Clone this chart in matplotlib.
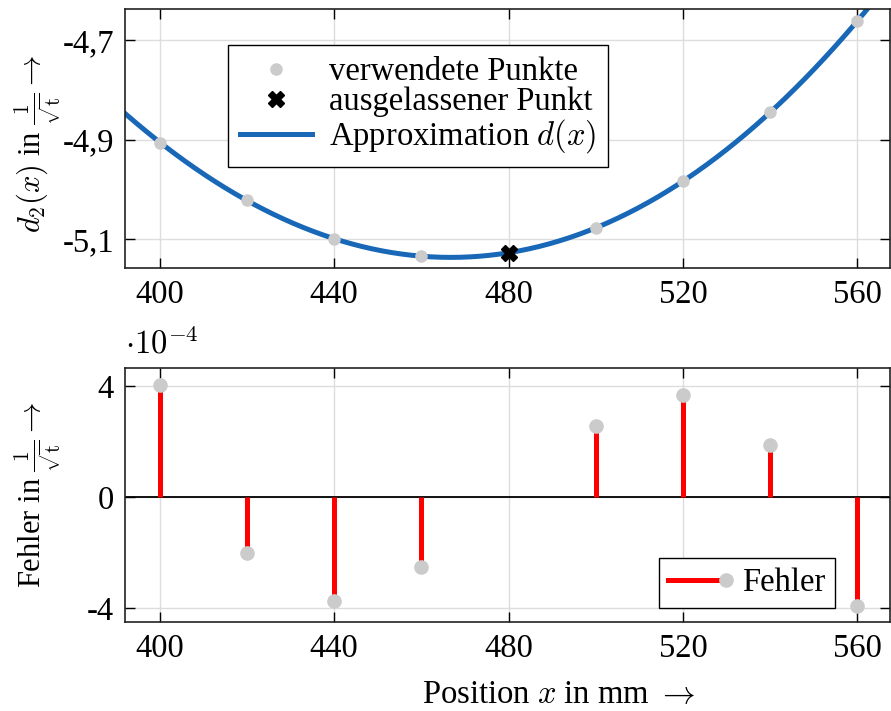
import numpy as np
import matplotlib
matplotlib.use("Agg")
import matplotlib.pyplot as plt
from matplotlib.lines import Line2D
from matplotlib.legend_handler import HandlerBase

plt.rcParams['font.family'] = ['Liberation Serif', 'DejaVu Serif']
plt.rcParams['mathtext.fontset'] = 'cm'

# ---- data ----
x_used = [400, 420, 440, 460, 500, 520, 540, 560]
d_used = [-4.906, -5.021, -5.100, -5.134, -5.078, -4.983, -4.845, -4.662]
x_omit = [480]
d_omit = [-5.128]
err_x = [400, 420, 440, 460, 500, 520, 540, 560]
err_vals = [4.03e-4, -2.02e-4, -3.75e-4, -2.52e-4, 2.56e-4, 3.68e-4, 1.87e-4, -3.93e-4]
xticks = [400, 440, 480, 520, 560]
top_yticks = [-5.1, -4.9, -4.7]
top_yticklabels = ['-5,1', '-4,9', '-4,7']
bot_yticks = [-4e-4, 0, 4e-4]
bot_yticklabels = ['-4', '0', '4']

blue = '#1868b7'
gray = '#cbcbcb'
red = '#ff0000'
fs = 23.5
fsl = 22

fig = plt.figure(figsize=(8.91, 7.11), dpi=100)
ax1 = fig.add_axes([0.1403, 0.623, 0.8586, 0.3643])
ax2 = fig.add_axes([0.1403, 0.1252, 0.8586, 0.3572])

# approximation curve: cubic fit of the used points
coef = np.polyfit(x_used, d_used, 3)
xc = np.linspace(390, 570, 400)
ax1.plot(xc, np.polyval(coef, xc), color=blue, lw=3.6, label=r'Approximation $d(x)$', zorder=2)
ax1.plot(x_used, d_used, 'o', color=gray, ms=8, ls='none', label='verwendete Punkte', zorder=3)
ax1.plot(x_omit, d_omit, 'X', color='black', ms=12, ls='none', label='ausgelassener Punkt', zorder=4)

ax1.set_xlim(392, 567.5)
ax1.set_ylim(-5.158, -4.6377)
ax1.set_xticks(xticks)
ax1.set_yticks(top_yticks)
ax1.set_yticklabels(top_yticklabels)
ax1.set_ylabel(r'$d_2(x)$ in $\frac{1}{\sqrt{\mathrm{t}}}\rightarrow$', fontsize=fsl)
ax1.yaxis.set_label_coords(-0.08, 0.48)

h, l = ax1.get_legend_handles_labels()
order = [1, 2, 0]
leg1 = ax1.legend([h[i] for i in order], [l[i] for i in order], loc='upper left',
                  bbox_to_anchor=(0.135, 0.861), borderaxespad=0, fontsize=fs, frameon=True,
                  fancybox=False, edgecolor='black', framealpha=1, borderpad=0.35,
                  labelspacing=0.0, handlelength=2.2, handletextpad=0.55)
leg1.get_frame().set_linewidth(1.0)

# stems
ax2.axhline(0, color='black', lw=1.3, zorder=2)
for xv, ev in zip(err_x, err_vals):
    ax2.plot([xv, xv], [0, ev], color=red, lw=3.6, zorder=3, solid_capstyle='butt')
ax2.plot(err_x, err_vals, 'o', color=gray, ms=9.5, ls='none', zorder=4)

ax2.set_xlim(392, 567.5)
ax2.set_ylim(-4.5e-4, 4.65e-4)
ax2.set_xticks(xticks)
ax2.set_yticks(bot_yticks)
ax2.set_yticklabels(bot_yticklabels)
ax2.set_ylabel(r'Fehler in $\frac{1}{\sqrt{\mathrm{t}}}\rightarrow$', fontsize=fsl)
ax2.yaxis.set_label_coords(-0.08, 0.5)
ax2.set_xlabel(r'Position $x$ in mm $\rightarrow$', fontsize=fs)
ax2.xaxis.set_label_coords(0.566, -0.225)
ax2.text(0.0, 1.03, r'$\cdot10^{-4}$', transform=ax2.transAxes, fontsize=fs, ha='left', va='bottom')


class StemHandler(HandlerBase):
    def create_artists(self, legend, orig_handle, xdescent, ydescent, width, height, fontsize, trans):
        y = height / 2 - ydescent
        ln = Line2D([-xdescent, width - xdescent], [y, y], color=red, lw=3.6, transform=trans)
        mk = Line2D([width - xdescent], [y], marker='o', color=gray, ms=9.5, ls='none', transform=trans)
        return [ln, mk]


proxy = Line2D([], [], color=red)
leg2 = ax2.legend([proxy], ['Fehler'], handler_map={Line2D: StemHandler()}, loc='lower right',
                  bbox_to_anchor=(0.928, 0.055), borderaxespad=0, fontsize=fs, frameon=True,
                  fancybox=False, edgecolor='black', framealpha=1, borderpad=0.3,
                  handlelength=1.75, handletextpad=0.5)
leg2.get_frame().set_linewidth(1.0)

for ax in (ax1, ax2):
    ax.grid(True, color='#dddddd', lw=1.0)
    ax.set_axisbelow(True)
    ax.tick_params(direction='in', length=7, width=1.0, top=True, right=True, labelsize=fs, pad=8)
    for s in ax.spines.values():
        s.set_linewidth(1.2)
        s.set_color('#222222')

fig.savefig('out.png', dpi=100)
